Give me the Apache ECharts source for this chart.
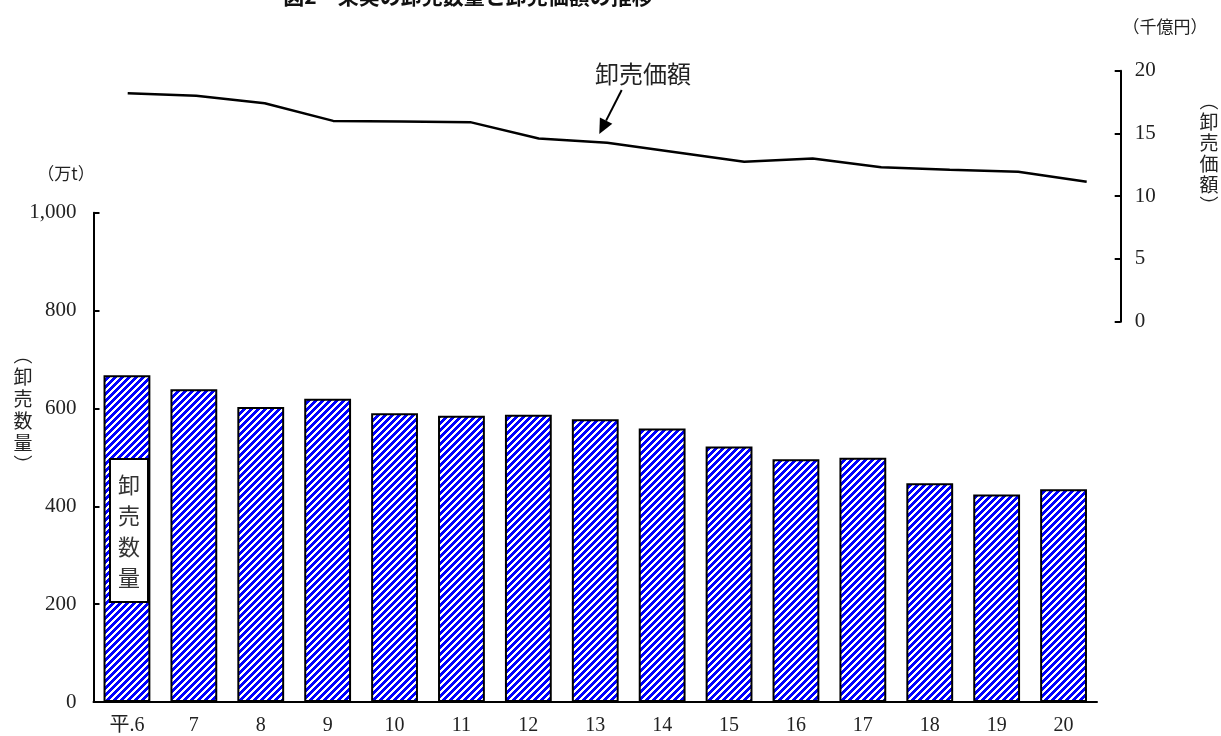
<!DOCTYPE html>
<html>
<head>
<meta charset="utf-8">
<script src="https://cdn.jsdelivr.net/npm/echarts@6/dist/echarts.min.js"></script>
<style>
html,body{margin:0;padding:0;background:#fff;}
#chart{width:1221px;height:736px;}
</style>
</head>
<body>
<div id="chart"></div>
<script>
// ---- data ----
const categories = ['平.6','7','8','9','10','11','12','13','14','15','16','17','18','19','20'];
const quantity = [668, 639, 603, 620, 590, 585, 587, 578, 559, 522, 496, 499, 447, 424, 435]; // 万t
const value = [18.2, 18.0, 17.4, 16.0, 15.95, 15.9, 14.6, 14.25, 13.5, 12.75, 13.0, 12.3, 12.1, 11.95, 11.15]; // 千億円
const leftTicks = [0, 200, 400, 600, 800, 1000];
const rightTicks = [0, 5, 10, 15, 20];

// stripe pattern
function makePattern(){
  const c = document.createElement('canvas');
  const n = 7;
  c.width = n; c.height = n;
  const ctx = c.getContext('2d');
  ctx.fillStyle = '#ffffff';
  ctx.fillRect(0,0,n,n);
  ctx.fillStyle = '#0000ff';
  for (let x=0;x<n;x++) for (let y=0;y<n;y++) {
    if ((x+y)%n < 4) ctx.fillRect(x,y,1,1);
  }
  return c;
}

const serif = '"Liberation Serif","DejaVu Serif","Noto Sans CJK JP",serif';

const chart = echarts.init(document.getElementById('chart'), null, {renderer:'canvas'});
chart.setOption({
  animation: false,
  backgroundColor: '#fff',
  grid: [
    {left: 93.5, right: 124, top: 212.7, bottom: 33.7},
    {left: 127.7, right: 134.3, top: 70.7, bottom: 414.3}
  ],
  xAxis: [
    {
      type: 'category', data: categories, gridIndex: 0,
      axisLine: {lineStyle: {color: '#000', width: 2}},
      axisTick: {show: false},
      axisLabel: {fontFamily: serif, fontSize: 20, color: '#222', margin: 14}
    },
    {
      type: 'category', data: categories, gridIndex: 1, boundaryGap: false, show: false
    }
  ],
  yAxis: [
    {
      type: 'value', gridIndex: 0, min: leftTicks[0], max: leftTicks[leftTicks.length-1], interval: 200,
      axisLine: {show: true, lineStyle: {color: '#000', width: 2}},
      axisTick: {show: true, inside: true, length: 6, lineStyle: {color: '#000', width: 2}},
      splitLine: {show: false},
      axisLabel: {fontFamily: serif, fontSize: 21, color: '#222', margin: 17,
        formatter: v => v.toLocaleString('en-US')}
    },
    {
      type: 'value', gridIndex: 1, position: 'right', offset: 34,
      min: rightTicks[0], max: rightTicks[rightTicks.length-1], interval: 5,
      axisLine: {show: true, lineStyle: {color: '#000', width: 2}},
      axisTick: {show: true, inside: true, length: 6, lineStyle: {color: '#000', width: 2}},
      splitLine: {show: false},
      axisLabel: {fontFamily: serif, fontSize: 21, color: '#222', margin: 14}
    }
  ],
  series: [
    {
      type: 'bar', name: '卸売数量', xAxisIndex: 0, yAxisIndex: 0,
      data: quantity, barWidth: '70%',
      itemStyle: {color: {image: makePattern(), repeat: 'repeat'}, borderColor: '#000', borderWidth: 2}
    },
    {
      type: 'line', name: '卸売価額', xAxisIndex: 1, yAxisIndex: 1,
      data: value, showSymbol: false, symbol: 'none',
      lineStyle: {color: '#000', width: 2.5}
    }
  ],
  graphic: [
    {type: 'text', x: 468, y: -4, style: {text: '図2　果実の卸売数量と卸売価額の推移',
      font: 'bold 21px "Noto Sans CJK JP"', fill: '#111', align: 'center', verticalAlign: 'middle'}},
    {type: 'text', x: 1165, y: 27, style: {text: '（千億円）', font: '17px "Noto Sans CJK JP"', fill: '#222', align: 'center', verticalAlign: 'middle'}},
    {type: 'text', x: 66, y: 174, style: {text: '（万t）', font: '17px "Noto Sans CJK JP"', fill: '#222', align: 'center', verticalAlign: 'middle'}},
    {type: 'text', x: 23, y: 410, style: {text: '︵\n卸\n売\n数\n量\n︶', font: '19px "Noto Sans CJK JP"', lineHeight: 22, fill: '#222', align: 'center', verticalAlign: 'middle'}},
    {type: 'text', x: 1209, y: 153, style: {text: '︵\n卸\n売\n価\n額\n︶', font: '19px "Noto Sans CJK JP"', lineHeight: 21, fill: '#222', align: 'center', verticalAlign: 'middle'}},
    {type: 'text', x: 643, y: 74, style: {text: '卸売価額', font: '24px "Noto Sans CJK JP"', fill: '#222', align: 'center', verticalAlign: 'middle'}},
    {type: 'line', shape: {x1: 621.7, y1: 90, x2: 606.1, y2: 120.6}, style: {stroke: '#000', lineWidth: 2}},
    {type: 'polygon', shape: {points: [[599.3,134],[612.3,123.8],[599.9,117.4]]}, style: {fill: '#000'}},
    {type: 'rect', shape: {x: 110, y: 459, width: 38, height: 143}, style: {fill: '#fff', stroke: '#000', lineWidth: 2}, z: 100},
    {type: 'text', x: 129, y: 531, z: 101, style: {text: '卸\n売\n数\n量', font: '22px "Noto Sans CJK JP"', lineHeight: 31, fill: '#333', align: 'center', verticalAlign: 'middle'}}
  ]
});
</script>
</body>
</html>
